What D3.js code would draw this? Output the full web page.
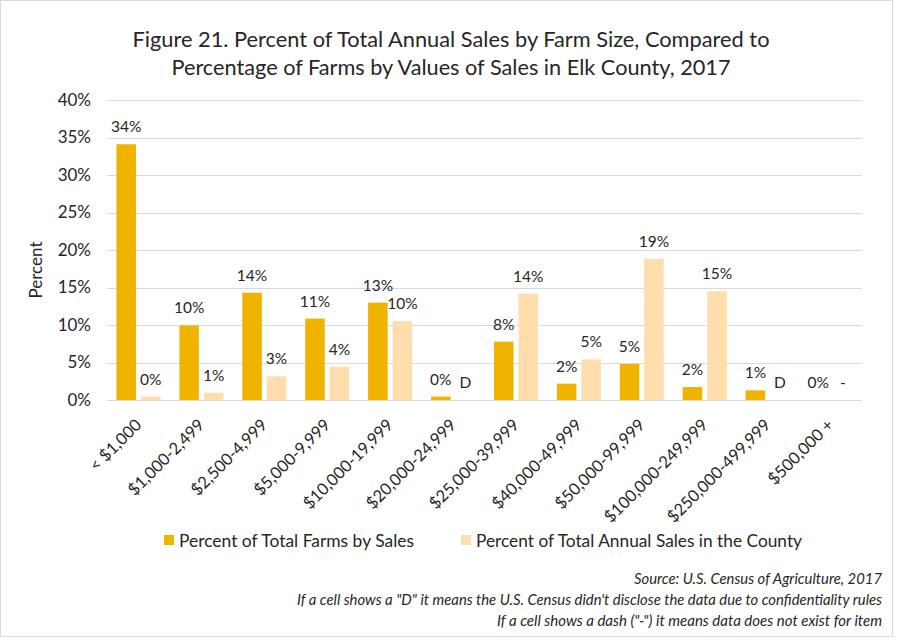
<!DOCTYPE html>
<html>
<head>
<meta charset="utf-8">
<script src="https://cdn.jsdelivr.net/npm/d3@7"></script>
<style>
  html, body { margin: 0; padding: 0; background: #ffffff; }
  svg text { font-family: Lato, "Open Sans", "DejaVu Sans", sans-serif; fill: #262626; }
</style>
</head>
<body>
<svg id="chart" width="897" height="640"></svg>
<script>
// ---------- data ----------
const categories = ["< $1,000", "$1,000-2,499", "$2,500-4,999", "$5,000-9,999", "$10,000-19,999",
  "$20,000-24,999", "$25,000-39,999", "$40,000-49,999", "$50,000-99,999", "$100,000-249,999",
  "$250,000-499,999", "$500,000 +"];
const seriesNames = ["Percent of Total Farms by Sales", "Percent of Total Annual Sales in the County"];
const farmsPct = [34.1, 9.95, 14.3, 10.85, 12.98, 0.45, 7.78, 2.18, 4.8, 1.73, 1.29, 0];
const salesPct = [0.45, 0.97, 3.15, 4.45, 10.5, null, 14.2, 5.42, 18.8, 14.5, null, null];
const farmsLabels = ["34%", "10%", "14%", "11%", "13%", "0%", "8%", "2%", "5%", "2%", "1%", "0%"];
const salesLabels = ["0%", "1%", "3%", "4%", "10%", "D", "14%", "5%", "19%", "15%", "D", "-"];
const yTicks = [0, 5, 10, 15, 20, 25, 30, 35, 40];
const titleLines = ["Figure 21. Percent of Total Annual Sales by Farm Size, Compared to",
  "Percentage of Farms by Values of Sales in Elk County, 2017"];
const notes = ["Source: U.S. Census of Agriculture, 2017",
  "If a cell shows a \"D\" it means the U.S. Census didn't disclose the data due to confidentiality rules",
  "If a cell shows a dash (\"-\") it means data does not exist for item"];
const colors = ["#EFB300", "#FFDDAC"];

// ---------- layout ----------
const svg = d3.select("#chart");
const W = 897, H = 640;
const plot = { left: 107, right: 862, top: 100, bottom: 400 };

svg.append("rect").attr("x", 0.5).attr("y", 0.5).attr("width", W - 5).attr("height", H - 4)
  .attr("fill", "#fff").attr("stroke", "#d9d9d9").attr("stroke-width", 1);

function fitText(sel, target) {
  sel.each(function () {
    const w = this.getComputedTextLength();
    if (w > 0 && Math.abs(w - target) > 1) {
      d3.select(this).attr("textLength", target).attr("lengthAdjust", "spacingAndGlyphs");
    }
  });
}

// title
const titleWidths = [637, 559];
titleLines.forEach((t, i) => {
  svg.append("text").attr("x", 451).attr("y", 47 + i * 28)
    .attr("text-anchor", "middle").style("font-size", "21.5px").text(t)
    .call(fitText, titleWidths[i]);
});

const x = d3.scaleBand().domain(categories).range([plot.left, plot.right]).paddingInner(0).paddingOuter(0);
const xs = d3.scaleBand().domain([0, 1]).range([0, x.bandwidth()]).paddingInner(0.204).paddingOuter(0.386);
const y = d3.scaleLinear().domain([0, 40]).range([plot.bottom, plot.top]);

// gridlines
svg.append("g").selectAll("line").data(yTicks).join("line")
  .attr("x1", plot.left).attr("x2", plot.right)
  .attr("y1", d => Math.round(y(d)) + 0.5).attr("y2", d => Math.round(y(d)) + 0.5)
  .attr("stroke", "#d9d9d9").attr("stroke-width", 1);

// y axis
const yAxis = svg.append("g").attr("transform", `translate(${plot.left},0)`)
  .call(d3.axisLeft(y).tickValues(yTicks).tickFormat(d => d + "%").tickSize(0).tickPadding(16));
yAxis.select(".domain").remove();
yAxis.selectAll("text").style("font-size", "17px").attr("fill", "#404040")
  .style("font-family", "Lato, 'Open Sans', sans-serif");

svg.append("text").attr("transform", "translate(42,270) rotate(-90)")
  .attr("text-anchor", "middle").style("font-size", "17px").attr("fill", "#404040").text("Percent");

// bars
const rows = categories.map((c, i) => ({ c, vals: [farmsPct[i], salesPct[i]], labels: [farmsLabels[i], salesLabels[i]] }));
const groups = svg.append("g").selectAll("g").data(rows).join("g")
  .attr("transform", d => `translate(${x(d.c)},0)`);

groups.selectAll("rect").data(d => d.vals.map((v, k) => ({ v, k })).filter(e => e.v !== null && e.v > 0))
  .join("rect")
  .attr("x", e => xs(e.k)).attr("width", xs.bandwidth())
  .attr("y", e => y(e.v)).attr("height", e => y(0) - y(e.v))
  .attr("fill", e => colors[e.k]);

groups.selectAll("text").data(d => d.vals.map((v, k) => ({ v: v === null ? 0 : v, k, lab: d.labels[k] })))
  .join("text")
  .attr("x", e => xs(e.k) + xs.bandwidth() / 2)
  .attr("y", e => y(e.v) - 12)
  .attr("text-anchor", "middle").style("font-size", "15.5px").attr("fill", "#404040")
  .text(e => e.lab);

// x axis labels
const xAxis = svg.append("g").attr("transform", `translate(0,${plot.bottom})`)
  .call(d3.axisBottom(x).tickSize(0).tickPadding(0));
xAxis.select(".domain").remove();
xAxis.selectAll(".tick text")
  .attr("text-anchor", "end")
  .attr("transform", "translate(4,26) rotate(-45)")
  .attr("dy", 0).attr("y", 0)
  .style("font-size", "16.5px").attr("fill", "#404040")
  .style("font-family", "Lato, 'Open Sans', sans-serif");

// axis line
svg.append("line").attr("x1", plot.left).attr("x2", plot.right)
  .attr("y1", plot.bottom + 0.5).attr("y2", plot.bottom + 0.5)
  .attr("stroke", "#d9d9d9").attr("stroke-width", 1);

// legend
const legendX = [164, 461];
const legendW = [235, 326];
seriesNames.forEach((n, i) => {
  svg.append("rect").attr("x", legendX[i]).attr("y", 535).attr("width", 10).attr("height", 10).attr("fill", colors[i]);
  svg.append("text").attr("x", legendX[i] + 15).attr("y", 547).style("font-size", "17px").attr("fill", "#404040")
    .text(n).call(fitText, legendW[i]);
});

// notes
const noteW = [248, 585, 385];
notes.forEach((t, i) => {
  svg.append("text").attr("x", 882).attr("y", 584 + i * 21).attr("text-anchor", "end")
    .style("font-size", "14.5px").style("font-style", "italic").attr("fill", "#262626").text(t)
    .call(fitText, noteW[i]);
});
</script>
</body>
</html>
